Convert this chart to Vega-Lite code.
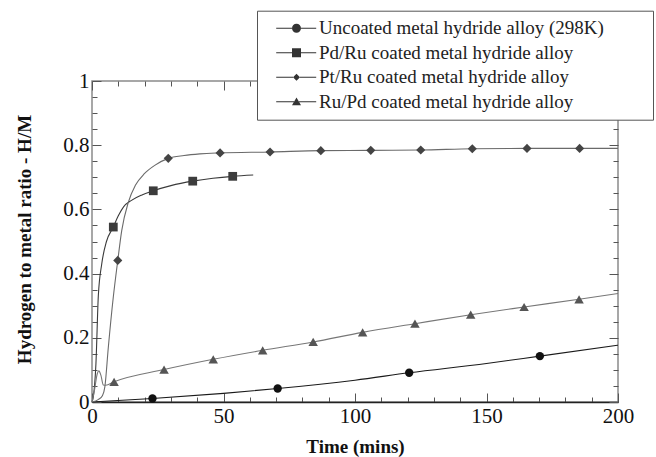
{
  "$schema": "https://vega.github.io/schema/vega-lite/v6.json",
  "width": 526,
  "height": 321,
  "autosize": {"type": "none"},
  "padding": {"left": 92, "top": 81, "right": 38, "bottom": 55},
  "background": "white",
  "config": {"view": {"stroke": "#8a8a8a", "strokeWidth": 1.5}, "font": "Liberation Serif"},
  "datasets": {
    "curves": [
      {"s": "Uncoated metal hydride alloy (298K)", "t": 0, "h": 0},
      {"s": "Uncoated metal hydride alloy (298K)", "t": 23, "h": 0.011},
      {"s": "Uncoated metal hydride alloy (298K)", "t": 50, "h": 0.027},
      {"s": "Uncoated metal hydride alloy (298K)", "t": 70.6, "h": 0.042},
      {"s": "Uncoated metal hydride alloy (298K)", "t": 100, "h": 0.068},
      {"s": "Uncoated metal hydride alloy (298K)", "t": 120.6, "h": 0.091},
      {"s": "Uncoated metal hydride alloy (298K)", "t": 150, "h": 0.12},
      {"s": "Uncoated metal hydride alloy (298K)", "t": 170.3, "h": 0.143},
      {"s": "Uncoated metal hydride alloy (298K)", "t": 200, "h": 0.177},
      {"s": "Pd/Ru coated metal hydride alloy", "t": 0, "h": 0},
      {"s": "Pd/Ru coated metal hydride alloy", "t": 0.5, "h": 0.016},
      {"s": "Pd/Ru coated metal hydride alloy", "t": 1.5, "h": 0.12},
      {"s": "Pd/Ru coated metal hydride alloy", "t": 2.4, "h": 0.33},
      {"s": "Pd/Ru coated metal hydride alloy", "t": 3.7, "h": 0.43},
      {"s": "Pd/Ru coated metal hydride alloy", "t": 5.5, "h": 0.5},
      {"s": "Pd/Ru coated metal hydride alloy", "t": 8.1, "h": 0.545},
      {"s": "Pd/Ru coated metal hydride alloy", "t": 10, "h": 0.58},
      {"s": "Pd/Ru coated metal hydride alloy", "t": 12, "h": 0.608},
      {"s": "Pd/Ru coated metal hydride alloy", "t": 15, "h": 0.628},
      {"s": "Pd/Ru coated metal hydride alloy", "t": 19, "h": 0.645},
      {"s": "Pd/Ru coated metal hydride alloy", "t": 23.3, "h": 0.658},
      {"s": "Pd/Ru coated metal hydride alloy", "t": 30, "h": 0.674},
      {"s": "Pd/Ru coated metal hydride alloy", "t": 38.3, "h": 0.688},
      {"s": "Pd/Ru coated metal hydride alloy", "t": 46, "h": 0.697},
      {"s": "Pd/Ru coated metal hydride alloy", "t": 53.5, "h": 0.703},
      {"s": "Pd/Ru coated metal hydride alloy", "t": 61.3, "h": 0.707},
      {"s": "Pt/Ru coated metal hydride alloy", "t": 0, "h": 0},
      {"s": "Pt/Ru coated metal hydride alloy", "t": 2.5, "h": 0.008},
      {"s": "Pt/Ru coated metal hydride alloy", "t": 4, "h": 0.02},
      {"s": "Pt/Ru coated metal hydride alloy", "t": 4.9, "h": 0.048},
      {"s": "Pt/Ru coated metal hydride alloy", "t": 6.2, "h": 0.17},
      {"s": "Pt/Ru coated metal hydride alloy", "t": 8.1, "h": 0.327},
      {"s": "Pt/Ru coated metal hydride alloy", "t": 9.8, "h": 0.441},
      {"s": "Pt/Ru coated metal hydride alloy", "t": 11.3, "h": 0.534},
      {"s": "Pt/Ru coated metal hydride alloy", "t": 13.8, "h": 0.622},
      {"s": "Pt/Ru coated metal hydride alloy", "t": 16.5, "h": 0.675},
      {"s": "Pt/Ru coated metal hydride alloy", "t": 20, "h": 0.712},
      {"s": "Pt/Ru coated metal hydride alloy", "t": 24, "h": 0.738},
      {"s": "Pt/Ru coated metal hydride alloy", "t": 29, "h": 0.759},
      {"s": "Pt/Ru coated metal hydride alloy", "t": 35, "h": 0.768},
      {"s": "Pt/Ru coated metal hydride alloy", "t": 41, "h": 0.773},
      {"s": "Pt/Ru coated metal hydride alloy", "t": 48.7, "h": 0.776},
      {"s": "Pt/Ru coated metal hydride alloy", "t": 67.7, "h": 0.779},
      {"s": "Pt/Ru coated metal hydride alloy", "t": 87, "h": 0.783},
      {"s": "Pt/Ru coated metal hydride alloy", "t": 106, "h": 0.784},
      {"s": "Pt/Ru coated metal hydride alloy", "t": 125, "h": 0.785},
      {"s": "Pt/Ru coated metal hydride alloy", "t": 144.6, "h": 0.789},
      {"s": "Pt/Ru coated metal hydride alloy", "t": 165.4, "h": 0.79},
      {"s": "Pt/Ru coated metal hydride alloy", "t": 185.4, "h": 0.79},
      {"s": "Pt/Ru coated metal hydride alloy", "t": 200, "h": 0.79},
      {"s": "Ru/Pd coated metal hydride alloy", "t": 0, "h": 0},
      {"s": "Ru/Pd coated metal hydride alloy", "t": 1, "h": 0.04},
      {"s": "Ru/Pd coated metal hydride alloy", "t": 2, "h": 0.088},
      {"s": "Ru/Pd coated metal hydride alloy", "t": 2.6, "h": 0.097},
      {"s": "Ru/Pd coated metal hydride alloy", "t": 3.4, "h": 0.083},
      {"s": "Ru/Pd coated metal hydride alloy", "t": 4.3, "h": 0.053},
      {"s": "Ru/Pd coated metal hydride alloy", "t": 5.2, "h": 0.052},
      {"s": "Ru/Pd coated metal hydride alloy", "t": 8.4, "h": 0.063},
      {"s": "Ru/Pd coated metal hydride alloy", "t": 27.4, "h": 0.101},
      {"s": "Ru/Pd coated metal hydride alloy", "t": 46.1, "h": 0.133},
      {"s": "Ru/Pd coated metal hydride alloy", "t": 64.9, "h": 0.161},
      {"s": "Ru/Pd coated metal hydride alloy", "t": 84.1, "h": 0.187},
      {"s": "Ru/Pd coated metal hydride alloy", "t": 102.9, "h": 0.217},
      {"s": "Ru/Pd coated metal hydride alloy", "t": 122.8, "h": 0.244},
      {"s": "Ru/Pd coated metal hydride alloy", "t": 144, "h": 0.272},
      {"s": "Ru/Pd coated metal hydride alloy", "t": 164.3, "h": 0.296},
      {"s": "Ru/Pd coated metal hydride alloy", "t": 185.2, "h": 0.32},
      {"s": "Ru/Pd coated metal hydride alloy", "t": 200, "h": 0.338}
    ],
    "pts": [
      {"s": "Uncoated metal hydride alloy (298K)", "t": 23, "h": 0.011},
      {"s": "Uncoated metal hydride alloy (298K)", "t": 70.6, "h": 0.042},
      {"s": "Uncoated metal hydride alloy (298K)", "t": 120.6, "h": 0.091},
      {"s": "Uncoated metal hydride alloy (298K)", "t": 170.3, "h": 0.143},
      {"s": "Pd/Ru coated metal hydride alloy", "t": 8.1, "h": 0.545},
      {"s": "Pd/Ru coated metal hydride alloy", "t": 23.3, "h": 0.658},
      {"s": "Pd/Ru coated metal hydride alloy", "t": 38.3, "h": 0.688},
      {"s": "Pd/Ru coated metal hydride alloy", "t": 53.5, "h": 0.703},
      {"s": "Pt/Ru coated metal hydride alloy", "t": 9.8, "h": 0.441},
      {"s": "Pt/Ru coated metal hydride alloy", "t": 29, "h": 0.759},
      {"s": "Pt/Ru coated metal hydride alloy", "t": 48.7, "h": 0.776},
      {"s": "Pt/Ru coated metal hydride alloy", "t": 67.7, "h": 0.779},
      {"s": "Pt/Ru coated metal hydride alloy", "t": 87, "h": 0.783},
      {"s": "Pt/Ru coated metal hydride alloy", "t": 106, "h": 0.784},
      {"s": "Pt/Ru coated metal hydride alloy", "t": 125, "h": 0.785},
      {"s": "Pt/Ru coated metal hydride alloy", "t": 144.6, "h": 0.789},
      {"s": "Pt/Ru coated metal hydride alloy", "t": 165.4, "h": 0.79},
      {"s": "Pt/Ru coated metal hydride alloy", "t": 185.4, "h": 0.79},
      {"s": "Ru/Pd coated metal hydride alloy", "t": 8.4, "h": 0.063},
      {"s": "Ru/Pd coated metal hydride alloy", "t": 27.4, "h": 0.101},
      {"s": "Ru/Pd coated metal hydride alloy", "t": 46.1, "h": 0.133},
      {"s": "Ru/Pd coated metal hydride alloy", "t": 64.9, "h": 0.161},
      {"s": "Ru/Pd coated metal hydride alloy", "t": 84.1, "h": 0.187},
      {"s": "Ru/Pd coated metal hydride alloy", "t": 102.9, "h": 0.217},
      {"s": "Ru/Pd coated metal hydride alloy", "t": 122.8, "h": 0.244},
      {"s": "Ru/Pd coated metal hydride alloy", "t": 144, "h": 0.272},
      {"s": "Ru/Pd coated metal hydride alloy", "t": 164.3, "h": 0.296},
      {"s": "Ru/Pd coated metal hydride alloy", "t": 185.2, "h": 0.32}
    ]
  },
  "layer": [
    {
      "data": {"name": "curves"},
      "mark": {"type": "line", "interpolate": "monotone", "strokeWidth": 1.1},
      "encoding": {
        "x": {
          "field": "t", "type": "quantitative",
          "scale": {"domain": [0, 200], "nice": false, "zero": false},
          "axis": {
            "orient": "bottom",
            "values": [0, 10, 20, 30, 40, 50, 60, 70, 80, 90, 100, 110, 120, 130, 140, 150, 160, 170, 180, 190, 200],
            "labelExpr": "datum.value % 50 === 0 ? datum.label : ''",
            "tickSize": {"condition": {"test": "datum.value % 50 === 0", "value": -9}, "value": -5},
            "tickColor": "#555", "tickWidth": 1,
            "domain": true, "domainColor": "#222", "domainWidth": 1.5,
            "grid": false,
            "labelFont": "Liberation Serif", "labelFontSize": 21, "labelColor": "#111",
            "labelPadding": 12, "labelFlush": false, "labelOverlap": false,
            "title": "Time (mins)", "titleFont": "Liberation Serif", "titleFontSize": 19,
            "titleFontWeight": "bold", "titleColor": "#111",
            "titleX": 263, "titleY": 44, "titleBaseline": "middle", "titleAlign": "center"
          }
        },
        "y": {
          "field": "h", "type": "quantitative",
          "scale": {"domain": [0, 1], "nice": false, "zero": false},
          "axis": {
            "orient": "left",
            "values": [0, 0.05, 0.1, 0.15, 0.2, 0.25, 0.3, 0.35, 0.4, 0.45, 0.5, 0.55, 0.6, 0.65, 0.7, 0.75, 0.8, 0.85, 0.9, 0.95, 1],
            "labelExpr": "abs(datum.value*5 - round(datum.value*5)) < 1e-6 ? format(datum.value, '.1~f') : ''",
            "tickSize": {"condition": {"test": "abs(datum.value*5 - round(datum.value*5)) < 1e-6", "value": -9}, "value": -5},
            "tickColor": "#555", "tickWidth": 1,
            "domain": false, "grid": false,
            "labelFont": "Liberation Serif", "labelFontSize": 21, "labelColor": "#111",
            "labelPadding": 12, "labelFlush": false, "labelOverlap": false,
            "title": "Hydrogen to metal ratio - H/M", "titleFont": "Liberation Serif", "titleFontSize": 19,
            "titleFontWeight": "bold", "titleColor": "#111",
            "titleX": -68, "titleY": 158, "titleAngle": -90, "titleBaseline": "middle", "titleAlign": "center"
          }
        },
        "color": {
          "field": "s", "type": "nominal",
          "scale": {
            "domain": ["Uncoated metal hydride alloy (298K)", "Pd/Ru coated metal hydride alloy", "Pt/Ru coated metal hydride alloy", "Ru/Pd coated metal hydride alloy"],
            "range": ["#1a1a1a", "#3a3a3a", "#6a6a6a", "#777777"]
          },
          "legend": null
        }
      }
    },
    {
      "data": {"name": "pts"},
      "mark": {"type": "point", "filled": true, "opacity": 1},
      "encoding": {
        "x": {
          "field": "t", "type": "quantitative",
          "axis": {
            "orient": "top",
            "values": [0, 10, 20, 30, 40, 50, 60, 70, 80, 90, 100, 110, 120, 130, 140, 150, 160, 170, 180, 190, 200],
            "labels": false, "domain": false, "grid": false, "title": null,
            "tickSize": {"condition": {"test": "datum.value % 50 === 0", "value": -9}, "value": -5},
            "tickColor": "#555", "tickWidth": 1
          }
        },
        "y": {
          "field": "h", "type": "quantitative",
          "axis": {
            "orient": "right",
            "values": [0, 0.05, 0.1, 0.15, 0.2, 0.25, 0.3, 0.35, 0.4, 0.45, 0.5, 0.55, 0.6, 0.65, 0.7, 0.75, 0.8, 0.85, 0.9, 0.95, 1],
            "labels": false, "domain": false, "grid": false, "title": null,
            "tickSize": {"condition": {"test": "abs(datum.value*5 - round(datum.value*5)) < 1e-6", "value": -9}, "value": -5},
            "tickColor": "#555", "tickWidth": 1
          }
        },
        "shape": {
          "field": "s", "type": "nominal",
          "scale": {
            "domain": ["Uncoated metal hydride alloy (298K)", "Pd/Ru coated metal hydride alloy", "Pt/Ru coated metal hydride alloy", "Ru/Pd coated metal hydride alloy"],
            "range": ["circle", "square", "diamond", "triangle-up"]
          },
          "legend": null
        },
        "size": {
          "field": "s", "type": "nominal",
          "scale": {
            "domain": ["Uncoated metal hydride alloy (298K)", "Pd/Ru coated metal hydride alloy", "Pt/Ru coated metal hydride alloy", "Ru/Pd coated metal hydride alloy"],
            "range": [70, 90, 60, 80]
          },
          "legend": null
        },
        "color": {
          "field": "s", "type": "nominal",
          "scale": {
            "domain": ["Uncoated metal hydride alloy (298K)", "Pd/Ru coated metal hydride alloy", "Pt/Ru coated metal hydride alloy", "Ru/Pd coated metal hydride alloy"],
            "range": ["#111111", "#3c3c3c", "#444444", "#555555"]
          },
          "legend": null
        }
      }
    },
    {
      "data": {"name": "pts"},
      "mark": {"type": "point", "filled": true, "opacity": 0, "size": 100, "color": "#333"},
      "encoding": {
        "x": {"field": "t", "type": "quantitative", "axis": null},
        "y": {"field": "h", "type": "quantitative", "axis": null},
        "shape": {
          "field": "s", "type": "nominal",
          "scale": {
            "domain": ["Uncoated metal hydride alloy (298K)", "Pd/Ru coated metal hydride alloy", "Pt/Ru coated metal hydride alloy", "Ru/Pd coated metal hydride alloy"],
            "range": [
              "M0.34,-0.1L3.5,-0.1L3.5,0.1L0.34,0.1Z M5.3,-0.1L8.34,-0.1L8.34,0.1L5.3,0.1Z M3.5,0A0.9,0.9 0 1,0 5.3,0A0.9,0.9 0 1,0 3.5,0Z",
              "M0.34,-0.1L3.5,-0.1L3.5,0.1L0.34,0.1Z M5.3,-0.1L8.34,-0.1L8.34,0.1L5.3,0.1Z M3.5,-0.9L5.3,-0.9L5.3,0.9L3.5,0.9Z",
              "M0.34,-0.1L3.7,-0.1L3.7,0.1L0.34,0.1Z M5.1,-0.1L8.34,-0.1L8.34,0.1L5.1,0.1Z M4.4,-0.7L5.1,0L4.4,0.7L3.7,0Z",
              "M0.34,-0.1L3.91,-0.1L3.91,0.1L0.34,0.1Z M4.89,-0.1L8.34,-0.1L8.34,0.1L4.89,0.1Z M4.4,-0.85L5.3,0.7L3.5,0.7Z"
            ]
          },
          "legend": {
            "orient": "none", "legendX": 165, "legendY": -70.3,
            "title": "\u00a0", "titleOrient": "right", "titlePadding": 41,
            "padding": 8,
            "fillColor": "white", "strokeColor": "#555",
            "symbolSize": 100, "labelOffset": 35, "rowPadding": 4.5, "labelLimit": 500,
            "labelFont": "Liberation Serif", "labelFontSize": 19, "labelColor": "#222",
            "encode": {
              "symbols": {
                "update": {
                  "fill": {"value": "#333"},
                  "stroke": {"value": "transparent"},
                  "opacity": {"value": 1},
                  "fillOpacity": {"value": 1}
                }
              }
            }
          }
        }
      }
    }
  ],
  "resolve": {
    "scale": {"color": "independent", "shape": "independent", "size": "independent"},
    "axis": {"x": "independent", "y": "independent"}
  }
}
